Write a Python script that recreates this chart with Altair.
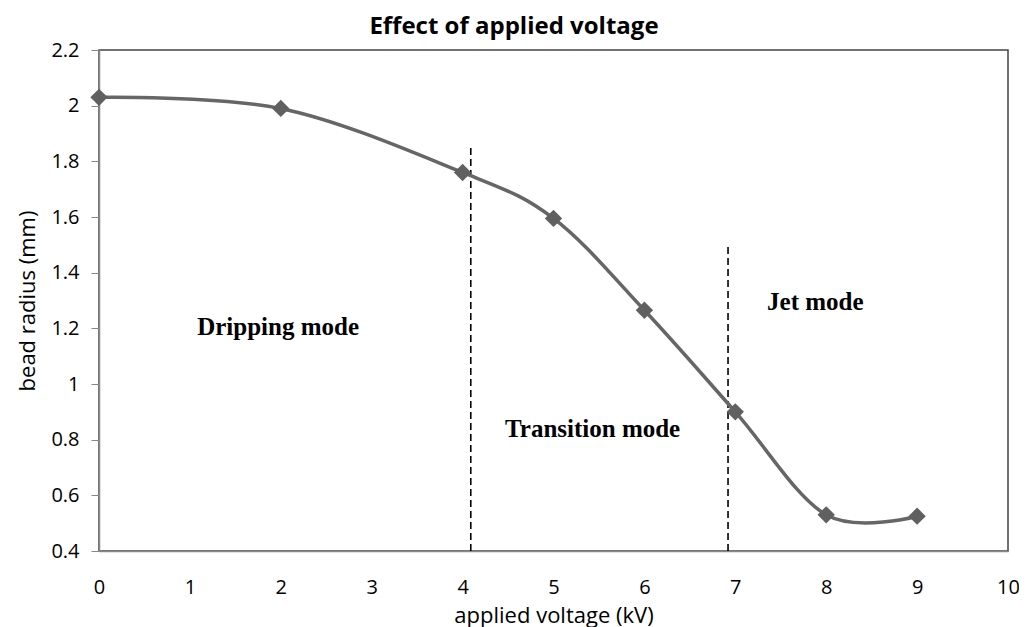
import altair as alt
import pandas as pd

# Data
voltage = [0, 2, 4, 5, 6, 7, 8, 9]
radius = [2.03, 1.99, 1.76, 1.595, 1.265, 0.90, 0.53, 0.525]

rule_x = [4.09, 6.92]
rule_y0 = [0.4, 0.4]
rule_y1 = [1.86, 1.50]

label_text = ["Dripping mode", "Transition mode", "Jet mode"]
label_x = [1.97, 5.43, 7.88]
label_y = [1.205, 0.838, 1.294]

y_ticks = [0.4, 0.6, 0.8, 1.0, 1.2, 1.4, 1.6, 1.8, 2.0, 2.2]
x_ticks = list(range(0, 11))

title_text = ["Effect of applied voltage"]

df = pd.DataFrame({"v": voltage, "r": radius})
rules = pd.DataFrame({"x": rule_x, "y0": rule_y0, "y1": rule_y1})
labels = pd.DataFrame({"t": label_text, "x": label_x, "y": label_y})
titles = pd.DataFrame({"t": title_text})

FONT = "Open Sans"

xs = alt.Scale(domain=[0, 10], nice=False, zero=False)
ys = alt.Scale(domain=[0.4, 2.2], nice=False, zero=False)

x_axis = alt.Axis(
    values=x_ticks, format="d", ticks=False, grid=False, labelFlush=False,
    labelFont=FONT, labelFontSize=20, labelColor="#000", labelPadding=26,
    title="applied voltage (kV)", titleFont=FONT, titleFontSize=22,
    titleFontWeight="normal", titleColor="#000", titlePadding=8,
    domainColor="#888", domainWidth=1.5,
)
y_axis = alt.Axis(
    values=y_ticks, format=".1~f", grid=False, tickSize=8, tickColor="#888",
    labelFlush=False,
    labelFont=FONT, labelFontSize=20, labelColor="#000", labelPadding=12,
    title="bead radius (mm)", titleFont=FONT, titleFontSize=22,
    titleFontWeight="normal", titleColor="#000", titlePadding=11,
    domainColor="#888", domainWidth=1.5,
)

line = alt.Chart(df).mark_line(
    interpolate="cardinal", color="#666666", strokeWidth=3.5
).encode(
    x=alt.X("v:Q", scale=xs, axis=x_axis),
    y=alt.Y("r:Q", scale=ys, axis=y_axis),
)

pts = alt.Chart(df).mark_point(
    shape="diamond", filled=True, size=300, color="#606060", opacity=1
).encode(
    x=alt.X("v:Q", scale=xs),
    y=alt.Y("r:Q", scale=ys),
)

rule = alt.Chart(rules).mark_rule(
    color="#000", strokeWidth=1.6, strokeDash=[7, 4]
).encode(
    x=alt.X("x:Q", scale=xs),
    y=alt.Y("y0:Q", scale=ys),
    y2="y1:Q",
)

txt = alt.Chart(labels).mark_text(
    font="Liberation Serif", fontSize=25, fontWeight="bold", color="#000",
    align="center", baseline="middle"
).encode(
    x=alt.X("x:Q", scale=xs),
    y=alt.Y("y:Q", scale=ys),
    text="t:N",
)

title = alt.Chart(titles).mark_text(
    font=FONT, fontSize=24, fontWeight="bold", color="#000",
    align="center", baseline="alphabetic"
).encode(
    x=alt.value(415),
    y=alt.value(-16),
    text="t:N",
)

chart = alt.layer(rule, line, pts, txt, title).properties(
    width=909,
    height=501,
    background="white",
    autosize=alt.AutoSizeParams(type="none"),
    padding={"left": 91, "top": 42, "right": 11, "bottom": 76},
).configure_view(
    stroke="#444", strokeWidth=1.5
)

chart.save("out.html", embed_options={"renderer": "svg", "actions": False})
